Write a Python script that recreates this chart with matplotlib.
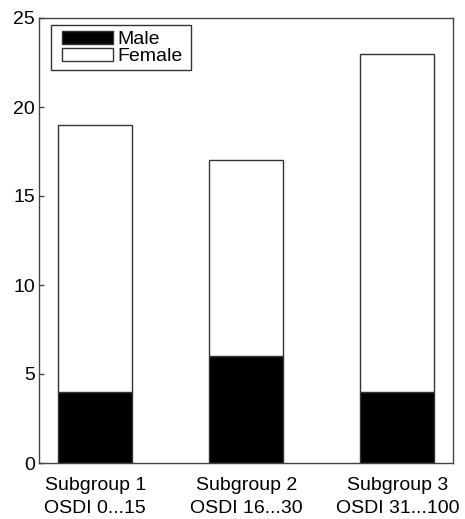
import matplotlib
matplotlib.use("Agg")
import matplotlib.pyplot as plt
from matplotlib.patches import Rectangle

categories = ["Subgroup 1\nOSDI 0...15", "Subgroup 2\nOSDI 16...30", "Subgroup 3\nOSDI 31...100"]
male = [4, 6, 4]
female = [15, 11, 19]
yticks = [0, 5, 10, 15, 20, 25]

plt.rcParams['font.family'] = ['Liberation Sans', 'DejaVu Sans']

W, H = 465, 519
fig = plt.figure(figsize=(W/100, H/100), dpi=100)
ax = fig.add_axes([39/W, 1-463/H, (453-39)/W, (463-18)/H])

x = [1, 2, 3]
edge = '#333333'
ax.bar(x, male, width=0.49, color='black', edgecolor=edge, linewidth=1.0, label='Male')
ax.bar(x, female, width=0.49, bottom=male, color='white', edgecolor=edge, linewidth=1.0, label='Female')

ax.set_xlim(0.627, 3.368)
ax.set_ylim(0, 25)
ax.set_yticks(yticks)
ax.set_xticks(x)
ax.set_xticklabels(categories, fontsize=14, linespacing=1.5)
ax.tick_params(axis='x', length=0, pad=10)
ax.tick_params(axis='y', direction='in', length=3.5, width=1, color='#444444', labelsize=14, pad=3)
for s in ax.spines.values():
    s.set_color('#444444')
    s.set_linewidth(1.0)

leg = ax.legend(loc='upper left', bbox_to_anchor=(61.7/W, 1-31/H), bbox_transform=fig.transFigure,
                borderaxespad=0, frameon=False, fontsize=14, handlelength=2.63, handleheight=0.62,
                handletextpad=0.22, labelspacing=0.0, borderpad=0.0)

fig.patches.append(Rectangle((51/W, 1-70/H), 140/W, 45/H, transform=fig.transFigure,
                             fill=False, edgecolor='#333333', linewidth=1.0, zorder=5))

fig.savefig('out.png', dpi=100)
